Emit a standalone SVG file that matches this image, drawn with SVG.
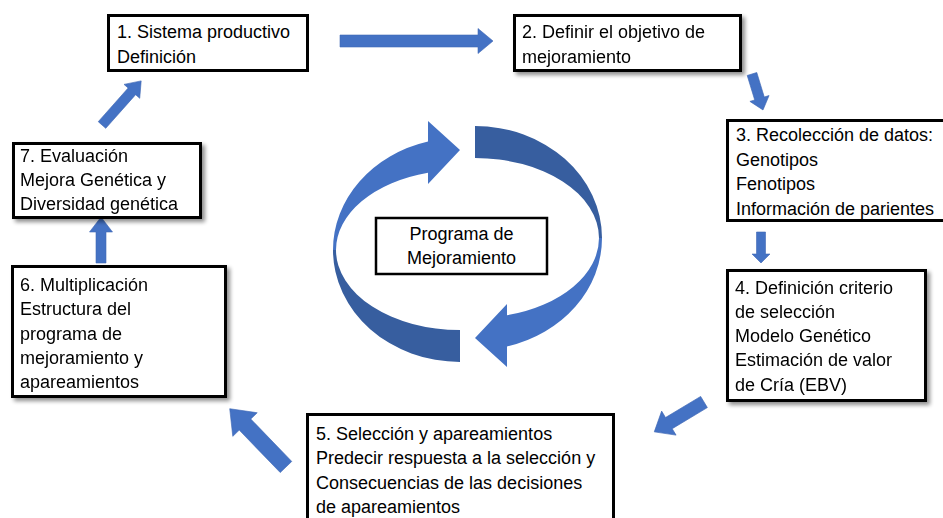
<svg xmlns="http://www.w3.org/2000/svg" xmlns:xlink="http://www.w3.org/1999/xlink" width="943" height="518" viewBox="0 0 943 518">
<style>
.box{fill:#fff;stroke:#000;stroke-width:3}
.t{font-family:"Liberation Sans",Arial,sans-serif;font-size:18px;fill:#000}
.arr{fill:#4472C4;stroke:#3F68B5;stroke-width:0.6}
.light{fill:#4472C4}
.dark{fill:#375E9F}
</style>
<defs>
<filter id="sh" x="-10%" y="-10%" width="130%" height="130%">
<feGaussianBlur in="SourceAlpha" stdDeviation="2"/>
<feOffset dx="3" dy="3" result="b"/>
<feComponentTransfer><feFuncA type="linear" slope="0.45"/></feComponentTransfer>
<feMerge><feMergeNode/><feMergeNode in="SourceGraphic"/></feMerge>
</filter>
<g id="piece">
<path class="light" d="M428,141.6 L428,121 L460,150 L428,184 L428,172.7 A124,80 0 0 0 336,250 L333,250 A127,112 0 0 1 428,141.6 Z"/>
<path class="dark" d="M336,250 A124,80 0 0 0 460,330 L460,362 A127,112 0 0 1 333,250 Z"/>
</g>
</defs>
<rect width="943" height="518" fill="#fff"/>

<g id="connectors">
<polygon class="arr" points="0,-6 138,-6 138,-12.5 153,0 138,12.5 138,6 0,6" transform="translate(340,41)"/>
<polygon class="arr" points="0,-5 25.6,-5 25.6,-10 37.6,0 25.6,10 25.6,5 0,5" transform="translate(752,74) rotate(73)"/>
<polygon class="arr" points="0,-4.5 22,-4.5 22,-9 31,0 22,9 22,4.5 0,4.5" transform="translate(761,232) rotate(90)"/>
<polygon class="arr" points="0,-6.5 41,-6.5 41,-14 58,0 41,14 41,6.5 0,6.5" transform="translate(704,402) rotate(149)"/>
<polygon class="arr" points="0,-8 59,-8 59,-17 81,0 59,17 59,8 0,8" transform="translate(286,467) rotate(-134)"/>
<polygon class="arr" points="0,-5 31,-5 31,-11.5 46,0 31,11.5 31,5 0,5" transform="translate(101,263) rotate(-90)"/>
<polygon class="arr" points="0,-5 45,-5 45,-10.5 59,0 45,10.5 45,5 0,5" transform="translate(102,125) rotate(-48.4)"/>
</g>

<g id="cycle">
<use xlink:href="#piece" href="#piece"/>
<use xlink:href="#piece" href="#piece" transform="rotate(180 467.5 244)"/>
</g>

<g id="center">
<rect x="376" y="218" width="171" height="56" fill="#fff" stroke="#000" stroke-width="2.5"/>
<text class="t" x="461.5" y="240" text-anchor="middle">Programa de</text>
<text class="t" x="461.5" y="264" text-anchor="middle">Mejoramiento</text>
</g>

<g id="n1">
<rect class="box" x="108.5" y="15.5" width="199" height="55"/>
<text class="t" x="117" y="38">1. Sistema productivo</text>
<text class="t" x="117" y="63">Definición</text>
</g>

<g id="n2" filter="url(#sh)">
<rect class="box" x="514.5" y="15.5" width="226" height="55"/>
<text class="t" x="522" y="38">2. Definir el objetivo de</text>
<text class="t" x="522" y="63">mejoramiento</text>
</g>

<g id="n3">
<rect class="box" x="727.5" y="120.5" width="230" height="100"/>
<text class="t" x="736" y="141">3. Recolección de datos:</text>
<text class="t" x="736" y="166">Genotipos</text>
<text class="t" x="736" y="190">Fenotipos</text>
<text class="t" x="736" y="215">Información de parientes</text>
</g>

<g id="n4" filter="url(#sh)">
<rect class="box" x="727.5" y="270.5" width="198" height="130"/>
<text class="t" x="735" y="294">4. Definición criterio</text>
<text class="t" x="735" y="318">de selección</text>
<text class="t" x="735" y="342">Modelo Genético</text>
<text class="t" x="735" y="366">Estimación de valor</text>
<text class="t" x="735" y="391">de Cría (EBV)</text>
</g>

<g id="n5">
<rect class="box" x="307.5" y="414.5" width="306" height="110"/>
<text class="t" x="316" y="440">5. Selección y apareamientos</text>
<text class="t" x="316" y="464">Predecir respuesta a la selección y</text>
<text class="t" x="316" y="489">Consecuencias de las decisiones</text>
<text class="t" x="316" y="513">de apareamientos</text>
</g>

<g id="n6" filter="url(#sh)">
<rect class="box" x="12.5" y="266.5" width="213" height="130"/>
<text class="t" x="20" y="291">6. Multiplicación</text>
<text class="t" x="20" y="315">Estructura del</text>
<text class="t" x="20" y="340">programa de</text>
<text class="t" x="20" y="364">mejoramiento y</text>
<text class="t" x="20" y="388">apareamientos</text>
</g>

<g id="n7" filter="url(#sh)">
<rect class="box" x="13.5" y="143.5" width="187" height="74"/>
<text class="t" x="20" y="162">7. Evaluación</text>
<text class="t" x="20" y="186">Mejora Genética y</text>
<text class="t" x="20" y="210">Diversidad genética</text>
</g>
</svg>
